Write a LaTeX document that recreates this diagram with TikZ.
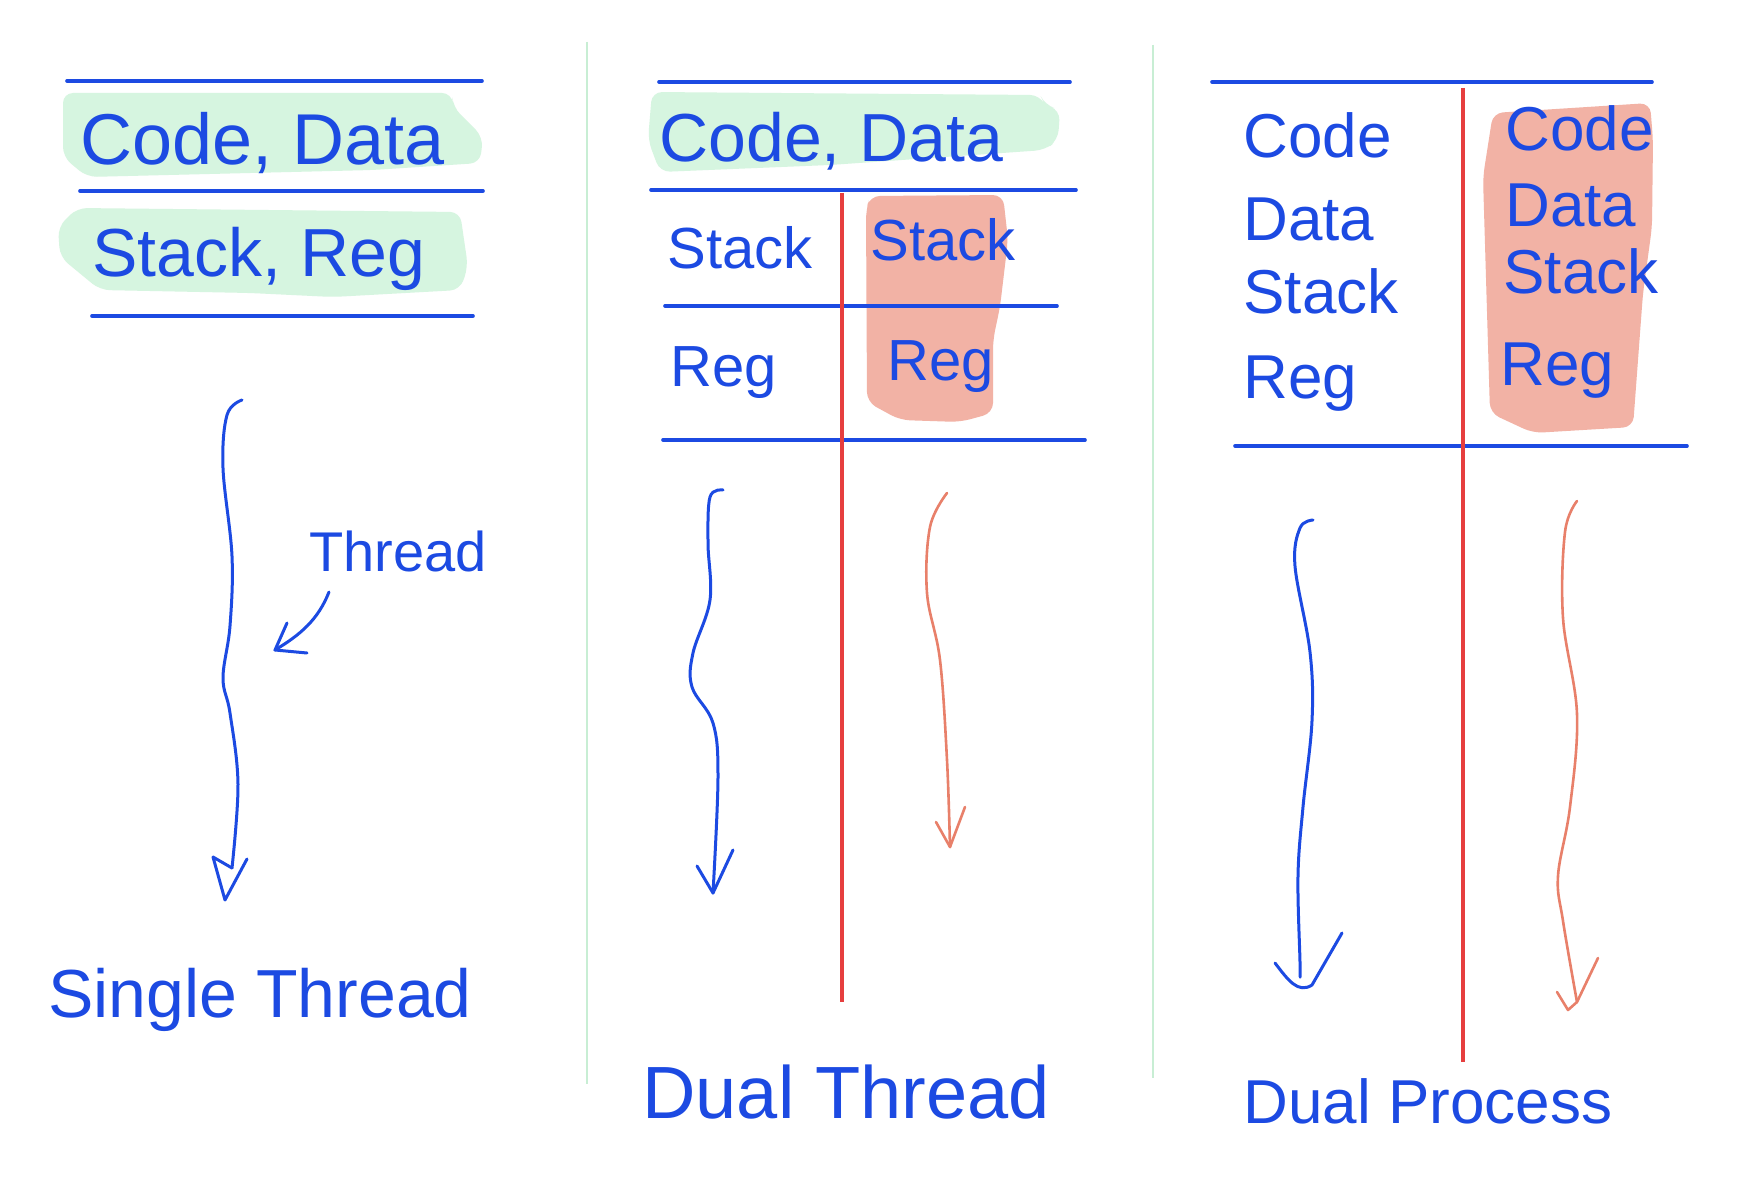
\documentclass[tikz,border=0pt]{standalone}
\usepackage{fontspec}
\setmainfont{Liberation Sans}
\definecolor{inkblue}{RGB}{28,74,226}
\definecolor{hlgreen}{RGB}{214,245,224}
\definecolor{hlred}{RGB}{242,178,165}
\definecolor{divgreen}{RGB}{200,238,212}
\definecolor{redln}{RGB}{230,62,62}
\definecolor{salmon}{RGB}{232,128,106}
\begin{document}
\begin{tikzpicture}[x=0.5pt,y=-0.5pt,
  rule/.style={draw=inkblue,line width=1.8pt,line cap=round},
  hand/.style={text=inkblue,anchor=base west,inner sep=0pt},
  greenhl/.style={fill=hlgreen,rounded corners=5pt},
  redhl/.style={fill=hlred,rounded corners=5pt},
  divider/.style={draw=divgreen,line width=1.4pt},
  redline/.style={draw=redln,line width=1.9pt},
  bluearrow/.style={draw=inkblue,line width=1.5pt,line cap=round,line join=round},
  redarrow/.style={draw=salmon,line width=1.3pt,line cap=round,line join=round},
  fA/.style={font=\fontsize{36pt}{38pt}\selectfont},
  fB/.style={font=\fontsize{34pt}{36pt}\selectfont},
  fC/.style={font=\fontsize{31pt}{33pt}\selectfont},
  fD/.style={font=\fontsize{28pt}{30pt}\selectfont},
  fE/.style={font=\fontsize{29pt}{31pt}\selectfont},
  fF/.style={font=\fontsize{37pt}{39pt}\selectfont}]
\useasboundingbox[fill=white] (0,0) rectangle (1752,1204);

% ---------- highlights ----------
\fill[greenhl] (63,93) -- (452,93) -- (453,107) -- (483,137) -- (480,163) -- (373,170) -- (87,177) -- (63,157) -- cycle;
\fill[greenhl] (77,208) -- (460,212) -- (468,267) -- (460,290) -- (333,297) -- (250,293) -- (100,290) -- (60,257) -- (58,227) -- cycle;
\fill[greenhl] (652,92) -- (1040,95) -- (1045,105) -- (1060,110) -- (1058,140) -- (1045,150) -- (830,165) -- (660,172) -- (648,140) -- cycle;
\fill[redhl] (870,196) -- (1003,195) -- (1008,240) -- (1000,307) -- (993,340) -- (993,413) -- (960,422) -- (900,420) -- (867,402) -- (866,210) -- cycle;
\fill[redhl] (1493,113) -- (1650,103) -- (1653,140) -- (1652,227) -- (1643,293) -- (1633,427) -- (1533,433) -- (1490,413) -- (1483,177) -- cycle;

% ---------- dividers ----------
\coordinate (d1t) at (587,42); \coordinate (d1b) at (587,1084);
\coordinate (d2t) at (1153,45); \coordinate (d2b) at (1153,1078);
\draw[divider] (d1t) -- (d1b);
\draw[divider] (d2t) -- (d2b);

% ---------- panel 1 ----------
\draw[rule] (67,81) -- (482,81);
\draw[rule] (80,191) -- (483,191);
\draw[rule] (92,316) -- (473,316);
\node[hand,fA] (p1cd) at (80,165) {Code, Data};
\node[hand,fB] (p1sr) at (92,276) {Stack, Reg};

\coordinate (a1s) at (242,400);
\coordinate (a1m) at (232,868);
\coordinate (a1e) at (225,900);
\draw[bluearrow] plot[smooth,tension=0.6] coordinates {(a1s) (227,415) (223,468) (232,556) (230,626) (223,678) (230,713) (238,784) (a1m)};
\draw[bluearrow] (a1m) -- (213,857) -- (a1e) -- (247,859);

\node[hand,fD] (thr) at (309,571) {Thread};
\coordinate (ts) at (329,592);
\coordinate (te) at (275,650);
\draw[bluearrow] (ts) .. controls (318,620) and (300,635) .. (te);
\draw[bluearrow] (287,623) -- (te) -- (307,653);

\node[hand,fB] (st) at (48,1017) {Single Thread};

% ---------- panel 2 ----------
\draw[rule] (659,82) -- (1070,82);
\draw[rule] (651,190) -- (1076,190);
\draw[rule] (665,306) -- (1057,306);
\draw[rule] (663,440) -- (1085,440);
\coordinate (r2t) at (842,193); \coordinate (r2b) at (842,1002);
\draw[redline] (r2t) -- (r2b);

\node[hand,fB] (p2cd) at (659,162) {Code, Data};
\node[hand,fE] (p2s1) at (667,268) {Stack};
\node[hand,fE] (p2s2) at (870,260) {Stack};
\node[hand,fE] (p2r1) at (670,386) {Reg};
\node[hand,fE] (p2r2) at (887,380) {Reg};

\coordinate (b2s) at (723,490);
\coordinate (b2e) at (713,893);
\draw[bluearrow] plot[smooth,tension=0.6] coordinates {(b2s) (710,497) (708,543) (710,600) (693,653) (692,687) (713,723) (718,777) (b2e)};
\draw[bluearrow] (697,866) -- (b2e) -- (733,850);

\coordinate (c2s) at (947,493);
\coordinate (c2e) at (950,847);
\draw[redarrow] plot[smooth,tension=0.6] coordinates {(c2s) (930,527) (927,593) (940,660) (947,760) (c2e)};
\draw[redarrow] (936,822) -- (c2e) -- (965,807);

\node[hand,fF] (dt) at (642,1118) {Dual Thread};

% ---------- panel 3 ----------
\draw[rule] (1212,82) -- (1652,82);
\draw[rule] (1235,446) -- (1687,446);
\coordinate (r3t) at (1463,88); \coordinate (r3b) at (1463,1062);
\draw[redline] (r3t) -- (r3b);

\node[hand,fC] (lc) at (1243,157) {Code};
\node[hand,fC] (ld) at (1243,241) {Data};
\node[hand,fC] (ls) at (1243,313) {Stack};
\node[hand,fC] (lr) at (1243,398) {Reg};
\node[hand,fC] (rc) at (1505,151) {Code};
\node[hand,fC] (rd) at (1505,227) {Data};
\node[hand,fC] (rs) at (1503,293) {Stack};
\node[hand,fC] (rr) at (1500,385) {Reg};

\coordinate (b3s) at (1313,520);
\coordinate (b3e) at (1300,977);
\draw[bluearrow] plot[smooth,tension=0.6] coordinates {(b3s) (1300,528) (1295,566) (1310,652) (1312,721) (1303,807) (1298,876) (1300,962) (b3e)};
\draw[bluearrow] (1275,963) .. controls (1288,980) and (1298,994) .. (1312,985) -- (1342,933);

\coordinate (c3s) at (1577,501);
\coordinate (c3e) at (1577,1002);
\draw[redarrow] plot[smooth,tension=0.6] coordinates {(c3s) (1565,532) (1563,618) (1577,714) (1570,807) (1558,876) (1563,921) (c3e)};
\draw[redarrow] (1557,992) -- (1568,1010) -- (c3e) -- (1598,958);

\node[hand,fC] (dp) at (1243,1123) {Dual Process};
\end{tikzpicture}
\end{document}
